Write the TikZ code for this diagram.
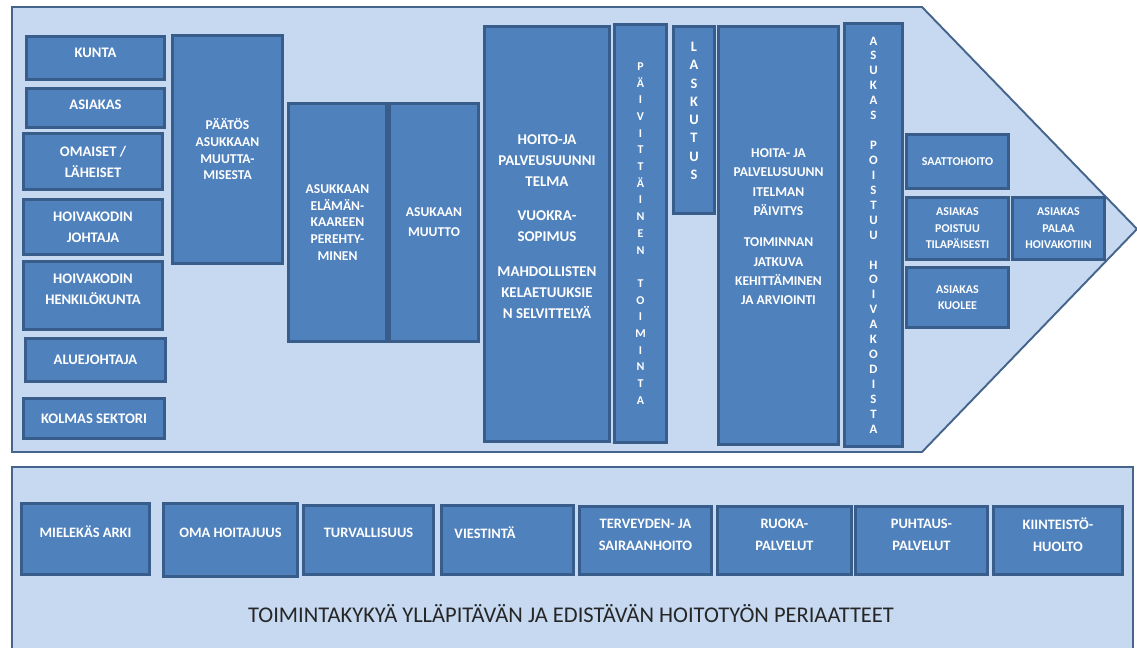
\documentclass[tikz,border=0pt]{standalone}
\usepackage{fontspec}
\setmainfont{Carlito}

\definecolor{panelfill}{HTML}{C6D9F1}
\definecolor{panelline}{HTML}{46658C}
\definecolor{boxfill}{HTML}{4F81BD}
\definecolor{boxline}{HTML}{385D8A}
\definecolor{titletext}{HTML}{262626}

\tikzset{
  panel/.style={fill=panelfill, draw=panelline, line width=1.1pt},
  bluebox/.style 2 args={fill=boxfill, draw=boxline, line width=1.7pt,
    text=white, align=center, inner sep=0pt, anchor=north west,
    minimum width=#1*0.02cm, minimum height=#2*0.02cm,
    font=\fontsize{8.3}{11.9}\selectfont\bfseries},
  narrowtext/.style={font=\fontsize{7.7}{9.5}\selectfont\bfseries},
  smalltext/.style={font=\fontsize{6.8}{9.4}\selectfont\bfseries},
  rowtext/.style={font=\fontsize{8.2}{12.5}\selectfont\bfseries},
}

\begin{document}
\begin{tikzpicture}[x=0.02cm, y=-0.02cm]
  \useasboundingbox (0,0) rectangle (1137,647);
  \clip (0,0) rectangle (1137,647);

  % Process arrow and principles panel
  \draw [panel] (12,7) -- (922,7) -- (1137,229) -- (922,452) -- (12,452) -- cycle;
  \draw [panel] (12,670) -- (12,467) -- (1133,467) -- (1133,670);

  % Parties involved
  \node [bluebox={138}{43}] (kunta) at (25,35) {KUNTA\\[-6.2pt]\mbox{}};
  \node [bluebox={138}{39}] (asiakas) at (25,87) {ASIAKAS\\[-8.5pt]\mbox{}};
  \node [bluebox={139}{56}] (omaiset) at (22,132) {OMAISET /\\LÄHEISET};
  \node [bluebox={139}{55}] (johtaja) at (22,198) {HOIVAKODIN\\JOHTAJA};
  \node [bluebox={139}{68}] (henkilokunta) at (22,260) {HOIVAKODIN\\HENKILÖKUNTA\\[-5pt]\mbox{}};
  \node [bluebox={140}{43}] (aluejohtaja) at (24,337) {ALUEJOHTAJA};
  \node [bluebox={141}{40}] (sektori) at (22,397) {KOLMAS SEKTORI};

  % Moving in
  \node [bluebox={110}{228}, narrowtext] (paatos) at (171,34)
    {PÄÄTÖS\\ASUKKAAN\\MUUTTA-\\MISESTA};
  \node [bluebox={98}{238}, narrowtext] (perehtyminen) at (287,102)
    {ASUKKAAN\\ELÄMÄN-\\KAAREEN\\PEREHTY-\\MINEN};
  \node [bluebox={89}{238}, font=\fontsize{7.7}{11.3}\selectfont\bfseries] (muutto) at (388,102)
    {ASUKAAN\\MUUTTO};
  \node [bluebox={125}{415}, font=\fontsize{8.5}{11.9}\selectfont\bfseries] (suunnitelma) at (483,25)
    {HOITO-JA\\PALVEUSUUNNI\\TELMA\\[8pt]VUOKRA-\\SOPIMUS\\[8pt]MAHDOLLISTEN\\KELAETUUKSIE\\N SELVITTELYÄ\\[-3.4pt]\mbox{}};

  % Daily living
  \node [bluebox={52}{418}, font=\fontsize{6.8}{9.5}\selectfont\bfseries] (paivittainen) at (613,23)
    {P\\Ä\\I\\V\\I\\T\\T\\Ä\\I\\N\\E\\N\\~\\T\\O\\I\\M\\I\\N\\T\\A};
  \node [bluebox={41}{187}, font=\fontsize{8.2}{10.4}\selectfont\bfseries] (laskutus) at (672,25)
    {L\\A\\S\\K\\U\\T\\U\\S\\~};
  \node [bluebox={120}{418}, font=\fontsize{7.7}{11}\selectfont\bfseries] (paivitys) at (717,25)
    {HOITA- JA\\PALVELUSUUNN\\ITELMAN\\PÄIVITYS\\[7pt]TOIMINNAN\\JATKUVA\\KEHITTÄMINEN\\JA ARVIOINTI\\[-1pt]\mbox{}};
  \node [bluebox={58}{423}, font=\fontsize{7.3}{8.5}\selectfont\bfseries] (poistuu) at (843,22)
    {A\\S\\U\\K\\A\\S\\~\\P\\O\\I\\S\\T\\U\\U\\~\\H\\O\\I\\V\\A\\K\\O\\D\\I\\S\\T\\A};

  % Leaving the home
  \node [bluebox={102}{54}, smalltext] (saattohoito) at (905,133) {SAATTOHOITO};
  \node [bluebox={102}{62}, smalltext] (tilapaisesti) at (905,196) {ASIAKAS\\POISTUU\\TILAPÄISESTI};
  \node [bluebox={92}{62}, smalltext] (palaa) at (1011,196) {ASIAKAS\\PALAA\\HOIVAKOTIIN};
  \node [bluebox={102}{60}, smalltext] (kuolee) at (905,266) {ASIAKAS\\KUOLEE};

  % Principles
  \node [bluebox={128}{71}, rowtext] (arki) at (20,502) {MIELEKÄS ARKI\\[-4.5pt]\mbox{}};
  \node [bluebox={134}{73}, rowtext] (omahoitajuus) at (162,502) {OMA HOITAJUUS\\[-4.5pt]\mbox{}};
  \node [bluebox={130}{69}, rowtext] (turvallisuus) at (302,504) {TURVALLISUUS\\[-4.5pt]\mbox{}};
  \node [bluebox={132}{69}, rowtext, align=left, text width=106*0.02cm] (viestinta) at (440,504) {VIESTINTÄ\\[-4.5pt]\mbox{}};
  \node [bluebox={132}{68}, rowtext] (terveys) at (578,505) {TERVEYDEN- JA\\SAIRAANHOITO\\[-5.7pt]\mbox{}};
  \node [bluebox={134}{68}, rowtext] (ruoka) at (716,505) {RUOKA-\\PALVELUT\\[-5.7pt]\mbox{}};
  \node [bluebox={132}{68}, rowtext] (puhtaus) at (854,505) {PUHTAUS-\\PALVELUT\\[-5.7pt]\mbox{}};
  \node [bluebox={129}{68}, rowtext] (kiinteisto) at (992,505) {KIINTEISTÖ-\\HUOLTO\\[-5.7pt]\mbox{}};

  \node [text=titletext, font=\fontsize{12.8}{14}\selectfont] (periaatteet) at (571,614)
    {TOIMINTAKYKYÄ YLLÄPITÄVÄN JA EDISTÄVÄN HOITOTYÖN PERIAATTEET};
\end{tikzpicture}
\end{document}
